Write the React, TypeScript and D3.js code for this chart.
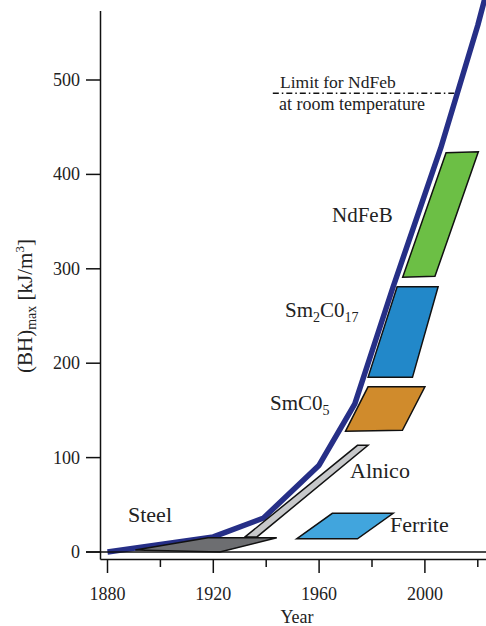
import React from "react";
import * as d3 from "d3";

const xTicksMajor = [1880, 1920, 1960, 2000];
const xTicksMinor = [1900, 1940, 1980, 2020];
const yTicks = [0, 100, 200, 300, 400, 500];

const trendYears = [1880, 1920, 1939, 1960, 1973.5, 1988, 2006, 2020, 2023.2];
const trendValues = [0, 16, 36, 92, 157, 281, 428, 558, 592];

const limitValue = 486;
const limitYears = [1942.5, 2011.5];

const steelPoly: [number, number][] = [[1890.5, 2], [1918, 15], [1944, 15], [1922.5, 0]];
const alnicoPoly: [number, number][] = [[1932, 16], [1974.5, 113], [1978.5, 113], [1936.5, 16]];
const ferritePoly: [number, number][] = [[1951.5, 14], [1965, 41], [1988, 41], [1974.5, 14]];
const smco5Poly: [number, number][] = [[1970, 128], [1978.5, 175], [2000, 175], [1991.5, 129]];
const sm2co17Poly: [number, number][] = [[1978.5, 185], [1989.5, 281], [2005, 281], [1995.3, 185]];
const ndfebPoly: [number, number][] = [[1991.6, 291], [2008, 423], [2020.2, 424], [2003.8, 292]];

const W = 486;
const H = 626;
const FONT = "'Liberation Serif', 'Times New Roman', serif";

export default function App() {
  const x = d3.scaleLinear().domain([1880, 2020]).range([107.5, 477.8]);
  const y = d3.scaleLinear().domain([0, 500]).range([552, 80]);
  const axisX = 100.5;
  const axisY = 559.5;

  const line = d3
    .line<number>()
    .x((d, i) => x(trendYears[i]))
    .y((d) => y(d))
    .curve(d3.curveLinear);

  const polyPath = (pts: [number, number][]) =>
    d3.line<[number, number]>().x((d) => x(d[0])).y((d) => y(d[1]))(pts) + "Z";

  const polys: { pts: [number, number][]; fill: string }[] = [
    { pts: steelPoly, fill: "#6d6e71" },
    { pts: alnicoPoly, fill: "#c7c8ca" },
    { pts: ferritePoly, fill: "#41a5dd" },
    { pts: smco5Poly, fill: "#d08b2c" },
    { pts: sm2co17Poly, fill: "#2288c9" },
    { pts: ndfebPoly, fill: "#6cbf45" },
  ];

  return (
    <svg
      width={W}
      height={H}
      style={{ position: "absolute", left: 0, top: 0, background: "#fff" }}
      fontFamily={FONT}
    >
      {/* trend line */}
      <path d={line(trendValues) || ""} fill="none" stroke="#262f87" strokeWidth={5.5} strokeLinejoin="round" />

      {/* polygons */}
      {polys.map((p, i) => (
        <path key={i} d={polyPath(p.pts)} fill={p.fill} stroke="#111" strokeWidth={1.5} strokeLinejoin="miter" />
      ))}

      {/* zero line */}
      <line x1={86} x2={W} y1={y(0)} y2={y(0)} stroke="#111" strokeWidth={1.3} />
      {/* axes */}
      <line x1={axisX} x2={axisX} y1={11} y2={axisY} stroke="#111" strokeWidth={1.5} />
      <line x1={axisX} x2={W} y1={axisY} y2={axisY} stroke="#111" strokeWidth={1.5} />

      {yTicks.map((t) => (
        <g key={t}>
          <line x1={86} x2={axisX} y1={y(t)} y2={y(t)} stroke="#111" strokeWidth={1.5} />
          <text x={80} y={y(t) + 6} textAnchor="end" fontSize={18} fill="#222">
            {t}
          </text>
        </g>
      ))}

      {xTicksMajor.map((t) => (
        <g key={t}>
          <line x1={x(t)} x2={x(t)} y1={axisY} y2={573} stroke="#111" strokeWidth={1.5} />
          <text x={x(t)} y={600} textAnchor="middle" fontSize={18} fill="#222">
            {t}
          </text>
        </g>
      ))}
      {xTicksMinor.map((t) => (
        <line key={t} x1={x(t)} x2={x(t)} y1={axisY} y2={567} stroke="#111" strokeWidth={1.5} />
      ))}

      <text x={297} y={623} textAnchor="middle" fontSize={18} fill="#222">Year</text>

      <text transform="translate(32,306) rotate(-90)" textAnchor="middle" fontSize={21} fill="#222">
        (BH)<tspan fontSize={14} dy={4}>max</tspan>
        <tspan dy={-4}> [kJ/m</tspan>
        <tspan fontSize={13} dy={-8}>3</tspan>
        <tspan dy={8}>]</tspan>
      </text>

      {/* limit */}
      <line
        x1={x(limitYears[0])}
        x2={x(limitYears[1])}
        y1={y(limitValue)}
        y2={y(limitValue)}
        stroke="#111"
        strokeWidth={1.5}
        strokeDasharray="6,3,1.5,3"
      />
      <text x={280} y={88} fontSize={17.5} fill="#222">Limit for NdFeb</text>
      <text x={279} y={110} fontSize={18} fill="#222">at room temperature</text>

      {/* labels */}
      <text x={128} y={522} fontSize={22} fill="#222">Steel</text>
      <text x={350} y={478} fontSize={22} fill="#222">Alnico</text>
      <text x={390} y={532} fontSize={22} fill="#222">Ferrite</text>
      <text x={270} y={410} fontSize={21} fill="#222">
        SmC0<tspan fontSize={14} dy={5}>5</tspan>
      </text>
      <text x={285} y={317} fontSize={21} fill="#222">
        Sm<tspan fontSize={14} dy={5}>2</tspan>
        <tspan dy={-5}>C0</tspan>
        <tspan fontSize={14} dy={5}>17</tspan>
      </text>
      <text x={332} y={222} fontSize={21} fill="#222">NdFeB</text>
    </svg>
  );
}
